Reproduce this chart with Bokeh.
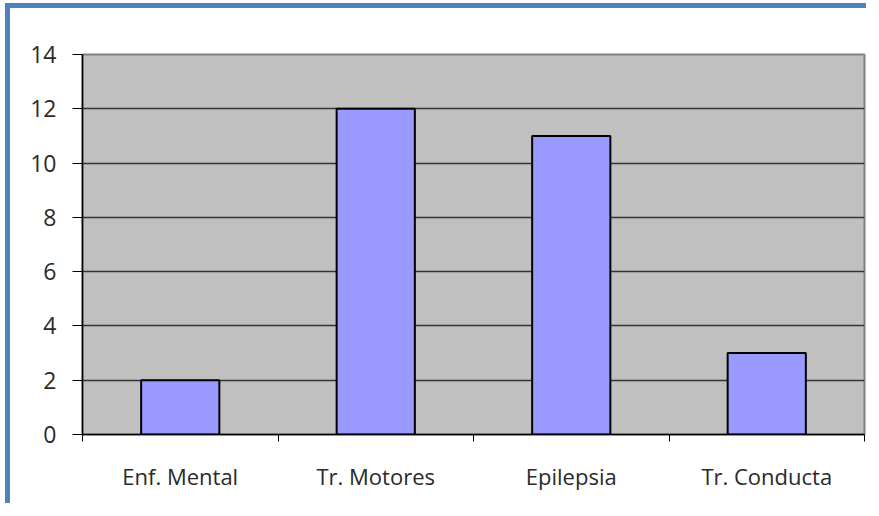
from bokeh.plotting import figure
from bokeh.models import FixedTicker, Range1d
from bokeh.embed import file_html
from bokeh.resources import INLINE

categories = ["Enf. Mental", "Tr. Motores", "Epilepsia", "Tr. Conducta"]
values = [2, 12, 11, 3]
y_ticks = [0, 2, 4, 6, 8, 10, 12, 14]

xs = [i + 0.5 for i in range(len(categories))]

p = figure(width=861, height=500, output_backend="svg", toolbar_location=None,
           x_range=Range1d(0, len(categories)), y_range=Range1d(0, 14),
           min_border_left=72, min_border_right=7, min_border_top=46, min_border_bottom=74)

p.styles = {"border-top": "5px solid #4F81BD", "border-left": "5px solid #4F81BD",
            "margin-left": "5px", "margin-top": "3px"}

p.background_fill_color = "#C0C0C0"
p.border_fill_color = "white"
p.outline_line_color = "#808080"
p.outline_line_width = 2

p.vbar(x=xs, top=values, width=0.4, bottom=0, fill_color="#9999FF",
       line_color="black", line_width=2)

# axes
p.yaxis.ticker = FixedTicker(ticks=y_ticks)
p.yaxis.axis_line_color = "black"
p.yaxis.axis_line_width = 1.5
p.yaxis.major_tick_out = 10
p.yaxis.major_tick_in = 0
p.yaxis.major_tick_line_color = "black"
p.yaxis.minor_tick_line_color = None
p.yaxis.major_label_standoff = 16
p.yaxis.major_label_text_font = "Open Sans"
p.yaxis.major_label_text_font_size = "23px"
p.yaxis.major_label_text_color = "#2a2a2a"

p.xaxis.ticker = FixedTicker(ticks=xs, minor_ticks=list(range(len(categories) + 1)))
p.xaxis.major_label_overrides = {x: c for x, c in zip(xs, categories)}
p.xaxis.axis_line_color = "black"
p.xaxis.axis_line_width = 1.5
p.xaxis.major_tick_out = 0
p.xaxis.major_tick_in = 0
p.xaxis.minor_tick_out = 7
p.xaxis.minor_tick_in = 0
p.xaxis.minor_tick_line_color = "black"
p.xaxis.major_label_standoff = 19
p.xaxis.major_label_text_font = "Open Sans"
p.xaxis.major_label_text_font_size = "22px"
p.xaxis.major_label_text_color = "#2a2a2a"

p.xgrid.grid_line_color = None
p.ygrid.ticker = FixedTicker(ticks=y_ticks)
p.ygrid.grid_line_color = "#333333"
p.ygrid.grid_line_width = 1.5

open("out.html", "w").write(file_html(p, INLINE))
